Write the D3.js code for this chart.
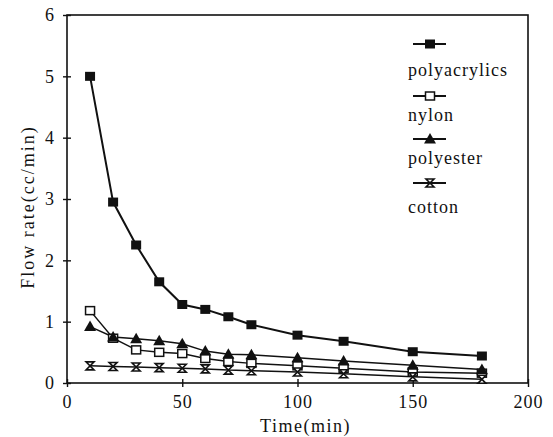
<!DOCTYPE html>
<html><head><meta charset="utf-8">
<script src="https://cdn.jsdelivr.net/npm/d3@7"></script>
<style>body{margin:0;background:#fff}svg{display:block}text{font-family:"Liberation Serif","DejaVu Serif",serif;fill:#111}</style>
</head><body><svg id="c" width="553" height="437"></svg>
<script>
const times = [10,20,30,40,50,60,70,80,100,120,150,180];
const polyacrylics = [5.0,2.95,2.25,1.65,1.28,1.2,1.08,0.95,0.78,0.68,0.51,0.44];
const nylon = [1.18,0.73,0.54,0.5,0.48,0.4,0.35,0.32,0.28,0.24,0.18,0.16];
const polyester = [0.92,0.75,0.72,0.69,0.64,0.52,0.47,0.46,0.41,0.36,0.29,0.22];
const cotton = [0.28,0.27,0.26,0.25,0.24,0.23,0.21,0.2,0.18,0.15,0.1,0.06];
const seriesNames = ["polyacrylics","nylon","polyester","cotton"];
const xTicks = [0,50,100,150,200];
const yTicks = [0,1,2,3,4,5,6];

const series = [
  {name: seriesNames[0], values: polyacrylics, marker: "fsquare"},
  {name: seriesNames[1], values: nylon, marker: "osquare"},
  {name: seriesNames[2], values: polyester, marker: "triangle"},
  {name: seriesNames[3], values: cotton, marker: "hourglass"}
];

const L = 67, R = 528, T = 15, B = 383;
const svg = d3.select("#c");
const x = d3.scaleLinear().domain([0,200]).range([L,R]);
const y = d3.scaleLinear().domain([0,6]).range([B,T]);

svg.append("rect").attr("x",L).attr("y",T).attr("width",R-L).attr("height",B-T)
  .attr("fill","none").attr("stroke","#111").attr("stroke-width",1.6);

const xa = svg.append("g").attr("transform",`translate(0,${B})`)
  .call(d3.axisBottom(x).tickValues(xTicks).tickSize(4).tickPadding(8).tickFormat(d3.format("d")));
const ya = svg.append("g").attr("transform",`translate(${L},0)`)
  .call(d3.axisLeft(y).tickValues(yTicks).tickSize(4).tickPadding(8).tickFormat(d3.format("d")));
[xa,ya].forEach(a=>{
  a.select(".domain").remove();
  a.selectAll(".tick line").attr("stroke","#111").attr("stroke-width",1.4);
  a.selectAll(".tick text").attr("font-size",18).attr("letter-spacing",1)
    .attr("font-family","Liberation Serif").attr("fill","#111");
});
xa.selectAll(".tick line").attr("y1",-4).attr("y2",4);
ya.selectAll(".tick line").attr("x1",-4).attr("x2",4);

svg.append("text").attr("x",(L+R)/2 + 8).attr("y",432).attr("text-anchor","middle")
  .attr("font-size",18).attr("letter-spacing",1.5).text("Time(min)");
svg.append("text").attr("transform",`translate(34,207) rotate(-90)`).attr("text-anchor","middle")
  .attr("font-size",18).attr("letter-spacing",2).text("Flow rate(cc/min)");

function drawMarker(g, type, cx, cy) {
  if (type === "fsquare") {
    g.append("rect").attr("x",cx-5).attr("y",cy-4.5).attr("width",10).attr("height",9).attr("fill","#111");
  } else if (type === "osquare") {
    g.append("rect").attr("x",cx-4.5).attr("y",cy-4).attr("width",9).attr("height",8)
      .attr("fill","#fff").attr("stroke","#111").attr("stroke-width",1.5);
  } else if (type === "triangle") {
    g.append("path").attr("d",`M${cx},${cy-6}L${cx+6},${cy+4.5}L${cx-6},${cy+4.5}Z`).attr("fill","#111");
  } else {
    g.append("path").attr("d",`M${cx-4},${cy-4}L${cx+4},${cy-4}L${cx-4},${cy+4}L${cx+4},${cy+4}Z`)
      .attr("fill","#fff").attr("stroke","#111").attr("stroke-width",1.6);
  }
}

const line = d3.line().x(d=>x(d[0])).y(d=>y(d[1]));
series.forEach((s,i)=>{
  const pts = times.map((t,j)=>[t,s.values[j]]);
  svg.append("path").datum(pts).attr("d",line).attr("fill","none")
    .attr("stroke","#111").attr("stroke-width", i===0 ? 2 : 1.5);
});
series.forEach(s=>{
  const g = svg.append("g");
  times.forEach((t,j)=>drawMarker(g, s.marker, x(t), y(s.values[j])));
});

const legY = [44, 96, 139, 183];
const legTextY = [76, 121, 164, 213];
series.forEach((s,i)=>{
  const g = svg.append("g");
  g.append("line").attr("x1",413).attr("x2",446).attr("y1",legY[i]).attr("y2",legY[i])
    .attr("stroke","#111").attr("stroke-width",1.8);
  drawMarker(g, s.marker, 430, legY[i]);
  g.append("text").attr("x",408).attr("y",legTextY[i]).attr("font-size",18).attr("letter-spacing",1).text(s.name);
});
</script></body></html>
